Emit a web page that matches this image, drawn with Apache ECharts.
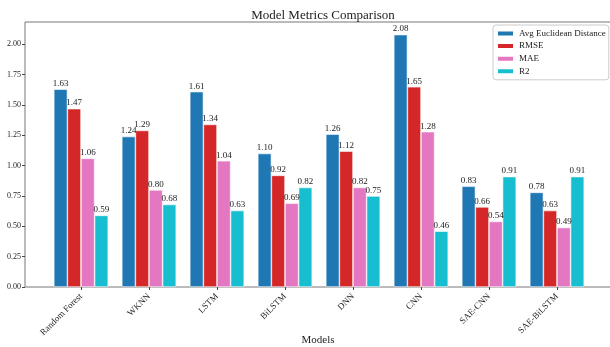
<!DOCTYPE html>
<html>
<head>
<meta charset="utf-8">
<script src="https://cdn.jsdelivr.net/npm/echarts@6/dist/echarts.min.js"></script>
<style>
  html, body { margin: 0; padding: 0; background: #fff; }
  #chart { width: 610px; height: 347px; }
</style>
</head>
<body>
<div id="chart"></div>
<script>
// Model names along the x axis
const models = ['Random Forest', 'WKNN', 'LSTM', 'BiLSTM', 'DNN', 'CNN', 'SAE-CNN', 'SAE-BiLSTM'];
// Metric values per model
const avgEuclidean = [1.63, 1.24, 1.61, 1.10, 1.26, 2.08, 0.83, 0.78];
const rmse = [1.47, 1.29, 1.34, 0.92, 1.12, 1.65, 0.66, 0.63];
const mae = [1.06, 0.80, 1.04, 0.69, 0.82, 1.28, 0.54, 0.49];
const r2 = [0.59, 0.68, 0.63, 0.82, 0.75, 0.46, 0.91, 0.91];
const seriesNames = ['Avg Euclidean Distance', 'RMSE', 'MAE', 'R2'];
const seriesData = [avgEuclidean, rmse, mae, r2];
const colors = ['#1f77b4', '#d62728', '#e377c2', '#17becf'];

const serif = '"Liberation Serif", "DejaVu Serif", serif';
const yMax = 2.184;

const chart = echarts.init(document.getElementById('chart'));

chart.setOption({
  animation: false,
  title: [
    {
      text: 'Model Metrics Comparison',
      left: 318,
      textAlign: 'center',
      top: 4,
      textStyle: { fontFamily: serif, fontSize: 13, fontWeight: 'normal', color: '#222' }
    },
    {
      // x axis title
      text: 'Models',
      left: 318,
      textAlign: 'center',
      top: 335,
      padding: 0,
      textStyle: { fontFamily: serif, fontSize: 11, fontWeight: 'normal', color: '#222' }
    }
  ],
  legend: {
    orient: 'vertical',
    left: 493,
    top: 25,
    itemWidth: 17,
    itemHeight: 6,
    itemGap: 3.6,
    padding: [4, 3, 4, 3],
    backgroundColor: '#fff',
    borderColor: '#ccc',
    borderWidth: 1,
    borderRadius: 3,
    icon: 'rect',
    textStyle: { fontFamily: serif, fontSize: 9, color: '#222' },
    data: seriesNames
  },
  grid: [
    // frame with the value scale
    { left: 25, right: -1, top: 22, bottom: 60, show: true, borderColor: '#777', borderWidth: 1,
      backgroundColor: 'transparent', containLabel: false, outerBoundsMode: 'none' },
    // bars
    { left: 47, right: 19, top: 22, bottom: 60, containLabel: false, outerBoundsMode: 'none' }
  ],
  xAxis: [
    { type: 'value', gridIndex: 0, min: 0, max: 1, show: false },
    {
      type: 'category',
      gridIndex: 1,
      data: models,
      axisLine: { show: false },
      axisTick: { show: true, alignWithLabel: true, length: 3, lineStyle: { color: '#444' } },
      axisLabel: { rotate: 45, fontFamily: serif, fontSize: 9, color: '#222', margin: 8, interval: 0 }
    }
  ],
  yAxis: [
    {
      type: 'value',
      gridIndex: 0,
      min: 0,
      max: yMax,
      interval: 0.25,
      splitLine: { show: false },
      axisLine: { show: false },
      axisTick: { show: true, length: 3, lineStyle: { color: '#444' } },
      axisLabel: {
        fontFamily: serif, fontSize: 8, color: '#222', margin: 4,
        formatter: v => v.toFixed(2),
        showMaxLabel: false
      }
    },
    { type: 'value', gridIndex: 1, min: 0, max: yMax, show: false }
  ],
  series: seriesNames.map((name, i) => ({
    name: name,
    type: 'bar',
    xAxisIndex: 1,
    yAxisIndex: 1,
    data: seriesData[i],
    barGap: '0%',
    barCategoryGap: '20%',
    itemStyle: { color: colors[i], borderColor: '#fff', borderWidth: 0.6 },
    label: {
      show: true,
      position: 'top',
      distance: 1,
      fontFamily: serif,
      fontSize: 9,
      color: '#222',
      formatter: p => p.value.toFixed(2)
    }
  }))
});
</script>
</body>
</html>
